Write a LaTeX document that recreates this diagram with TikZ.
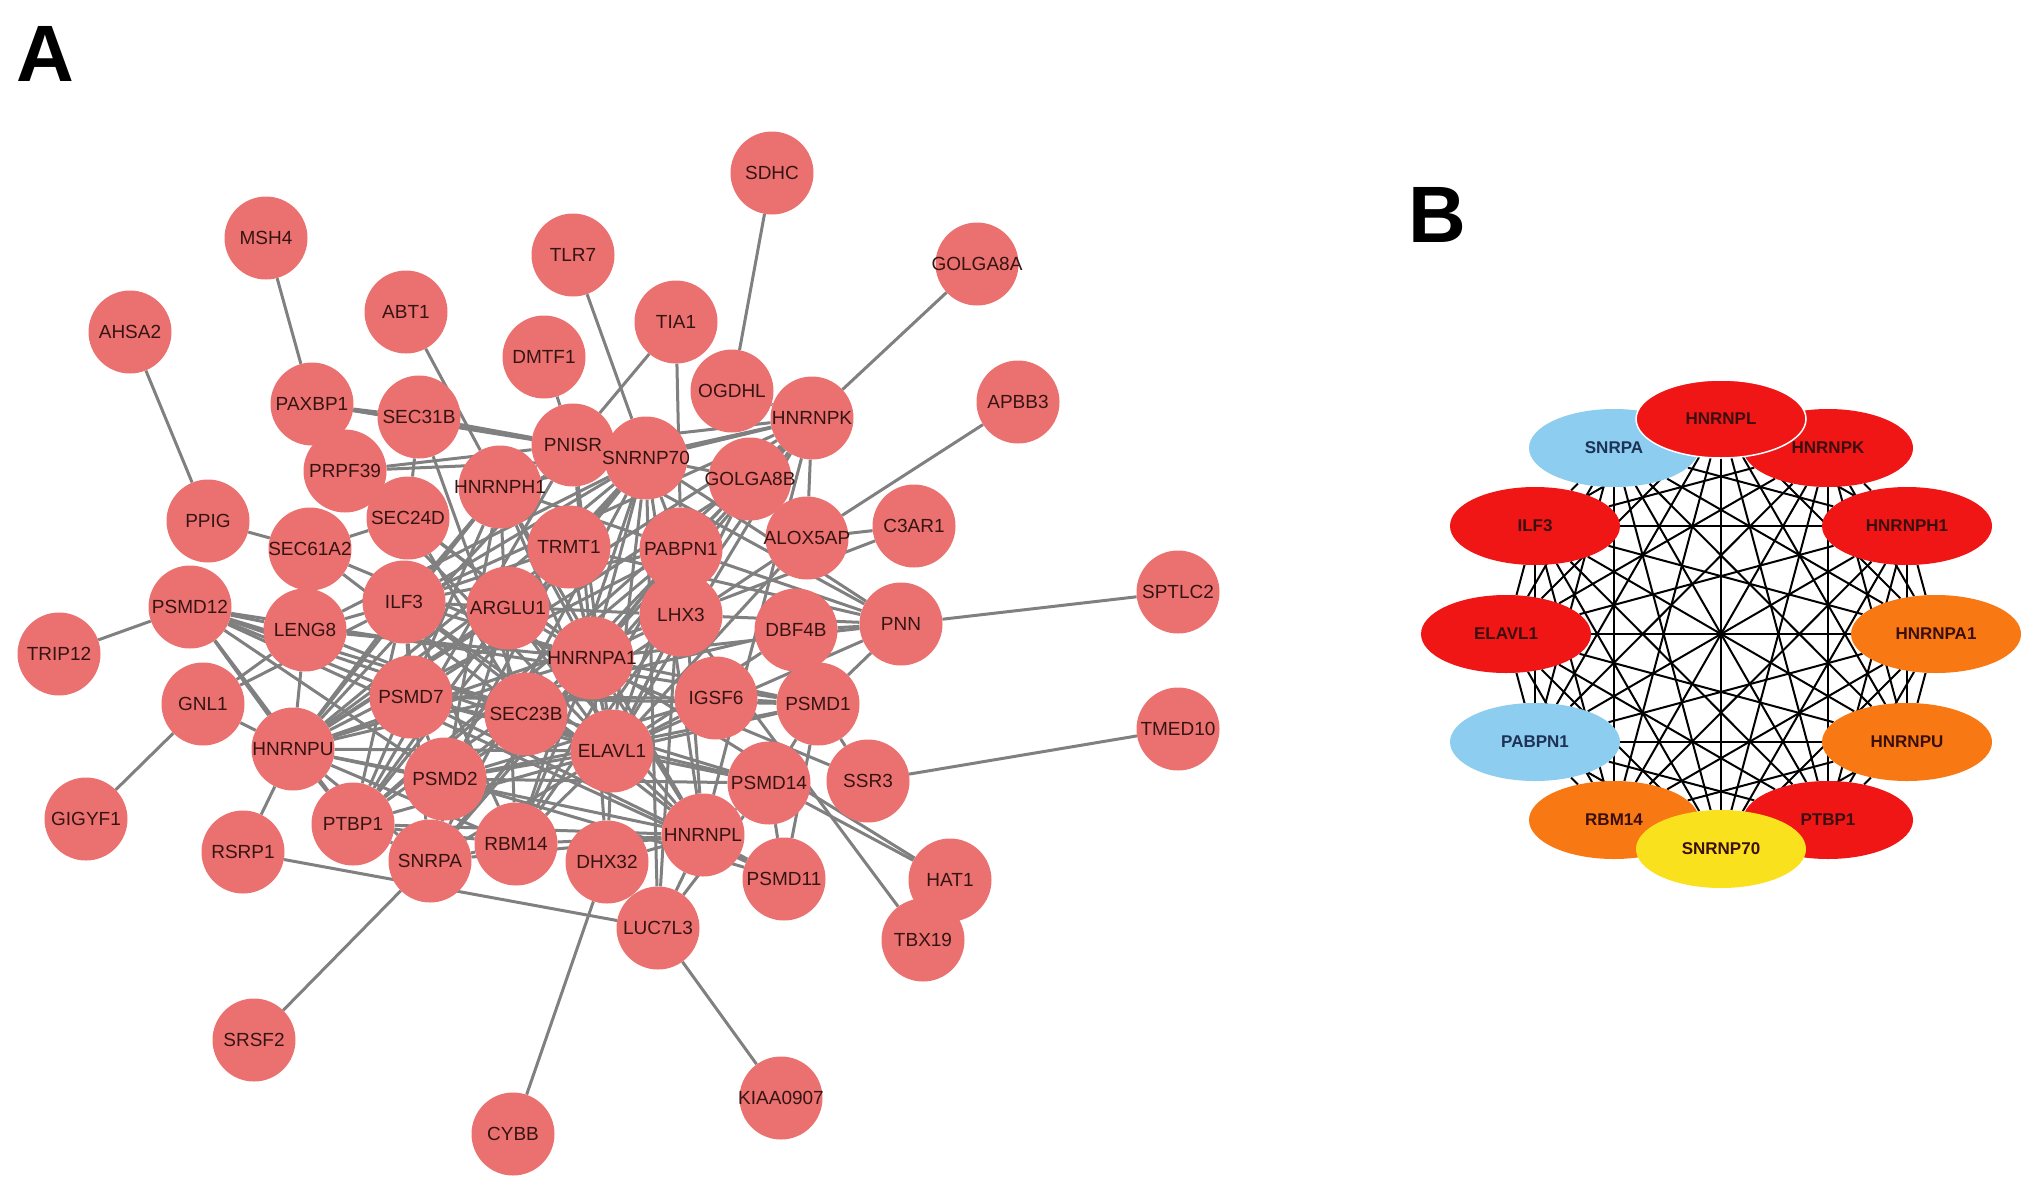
\documentclass[tikz,border=0pt]{standalone}
\usepackage{fontspec}
\setmainfont{Liberation Sans}
\usetikzlibrary{shapes.geometric,backgrounds}
\definecolor{geneA}{RGB}{234,113,111}
\definecolor{txtA}{RGB}{55,20,20}
\definecolor{edgeA}{RGB}{128,128,128}
\definecolor{hred}{RGB}{240,22,22}
\definecolor{horange}{RGB}{248,120,20}
\definecolor{hblue}{RGB}{140,205,240}
\definecolor{hyellow}{RGB}{250,225,30}
\definecolor{txtR}{RGB}{60,15,15}
\definecolor{txtU}{RGB}{30,50,85}
\begin{document}
\begin{tikzpicture}[x=1pt,y=-1pt,
  gene/.style={circle,fill=geneA,minimum size=83pt,inner sep=0pt,text=txtA,font=\fontsize{19}{19}\selectfont},
  hub/.style={ellipse,minimum width=170pt,minimum height=78pt,inner sep=0pt,font=\bfseries\fontsize{17}{17}\selectfont},
  link/.style={draw=edgeA,line width=3pt},
  clique/.style={draw=black,line width=2pt}]
\useasboundingbox (0,0) rectangle (2031,1186);
% panel letters
\node[font=\bfseries\fontsize{80}{80}\selectfont] (labA) at (45,54) {A};
\node[font=\bfseries\fontsize{80}{80}\selectfont] (labB) at (1437,215) {B};
% panel A: genes
\foreach \nm/\x/\y in {SDHC/772/173, MSH4/266/238, TLR7/573/255, GOLGA8A/977/264,
  ABT1/406/312, TIA1/676/322, AHSA2/130/332, DMTF1/544/357, OGDHL/732/391,
  APBB3/1018/402, PAXBP1/312/404, SEC31B/419/417, HNRNPK/812/418, PNISR/573/445,
  SNRNP70/646/458, PRPF39/345/471, GOLGA8B/750/479, HNRNPH1/500/487, PPIG/208/521,
  SEC24D/408/518, C3AR1/914/526, ALOX5AP/807/538, SEC61A2/310/549, TRMT1/569/547,
  PABPN1/681/549, SPTLC2/1178/592, ILF3/404/602, PSMD12/190/607, ARGLU1/508/608,
  LHX3/681/615, LENG8/305/630, DBF4B/796/630, PNN/901/624, TRIP12/59/654,
  HNRNPA1/592/658, IGSF6/716/698, PSMD7/411/697, GNL1/203/704, SEC23B/526/714,
  PSMD1/818/704, TMED10/1178/729, HNRNPU/293/749, ELAVL1/612/751, PSMD2/445/779,
  PSMD14/769/783, SSR3/868/781, GIGYF1/86/819, PTBP1/353/824, RSRP1/243/852,
  SNRPA/430/861, RBM14/516/844, DHX32/607/862, HNRNPL/703/835, PSMD11/784/879,
  HAT1/950/880, LUC7L3/658/928, TBX19/923/940, SRSF2/254/1040, KIAA0907/781/1098,
  CYBB/513/1134}
  \node[gene] (\nm) at (\x,\y) {\makebox[0pt]{\nm}};
\begin{scope}[on background layer]
% core hubs, all linked
\foreach \a [count=\i] in {ELAVL1,HNRNPA1,HNRNPU,HNRNPL,HNRNPK,HNRNPH1,ILF3,SNRNP70,SNRPA,PTBP1,RBM14,PABPN1}
  \foreach \b [count=\j] in {ELAVL1,HNRNPA1,HNRNPU,HNRNPL,HNRNPK,HNRNPH1,ILF3,SNRNP70,SNRPA,PTBP1,RBM14,PABPN1}
    {\ifnum\i<\j \draw[link] (\a) -- (\b); \fi}
% proteasome
\foreach \a [count=\i] in {PSMD1,PSMD2,PSMD7,PSMD11,PSMD12,PSMD14}
  \foreach \b [count=\j] in {PSMD1,PSMD2,PSMD7,PSMD11,PSMD12,PSMD14}
    {\ifnum\i<\j \draw[link] (\a) -- (\b); \fi}
% other links
\foreach \a/\b in {SDHC/OGDHL, MSH4/PAXBP1, TLR7/SNRNP70, GOLGA8A/HNRNPK, ABT1/HNRNPH1,
  TIA1/PNISR, TIA1/PABPN1, AHSA2/PPIG, DMTF1/PNISR, APBB3/ALOX5AP, PPIG/SEC61A2,
  C3AR1/ALOX5AP, C3AR1/LHX3, SPTLC2/PNN, TMED10/SSR3, TRIP12/PSMD12, GNL1/GIGYF1,
  GNL1/HNRNPU, GNL1/ILF3, GNL1/LENG8, RSRP1/HNRNPU, RSRP1/LUC7L3, SRSF2/SNRPA,
  CYBB/DHX32, KIAA0907/LUC7L3, HAT1/PSMD14, HAT1/HNRNPA1, TBX19/LHX3,
  PAXBP1/SEC31B, PAXBP1/PNISR, PAXBP1/SNRNP70, SEC31B/PNISR, SEC31B/SEC24D,
  SEC31B/SEC23B, SEC24D/SEC23B, SEC61A2/SEC24D, SEC61A2/SEC23B, SEC61A2/SSR3,
  SEC23B/PSMD2, SEC23B/ELAVL1, SEC24D/HNRNPA1,
  PRPF39/PNISR, PRPF39/SNRNP70, PRPF39/HNRNPA1, PRPF39/ELAVL1,
  PNISR/SNRNP70, PNISR/HNRNPA1, PNISR/ELAVL1, PNISR/PTBP1, PNISR/HNRNPU, PNISR/PNN, PNISR/HNRNPH1,
  TRMT1/ELAVL1, TRMT1/HNRNPA1, TRMT1/ILF3, TRMT1/HNRNPU, TRMT1/SNRNP70, TRMT1/PNN, TRMT1/PSMD2,
  ARGLU1/ELAVL1, ARGLU1/HNRNPA1, ARGLU1/HNRNPU, ARGLU1/SNRNP70, ARGLU1/PTBP1, ARGLU1/SNRPA, ARGLU1/HNRNPL,
  LHX3/ELAVL1, LHX3/HNRNPA1, LHX3/PNN, LHX3/HNRNPU, LHX3/ILF3,
  LENG8/ELAVL1, LENG8/HNRNPA1, LENG8/ILF3, LENG8/SNRNP70, LENG8/HNRNPU, LENG8/PSMD12,
  DBF4B/PNN, DBF4B/PSMD1, DBF4B/ELAVL1, DBF4B/HNRNPU,
  IGSF6/PSMD1, IGSF6/ELAVL1, IGSF6/PSMD7, IGSF6/PSMD2,
  PNN/SNRNP70, PNN/PABPN1, PNN/HNRNPA1, PNN/PSMD1, PNN/ELAVL1,
  GOLGA8B/SNRNP70, GOLGA8B/HNRNPK, GOLGA8B/ELAVL1, GOLGA8B/SEC23B, GOLGA8B/PSMD7,
  ALOX5AP/ELAVL1, ALOX5AP/PSMD2,
  DHX32/ELAVL1, DHX32/HNRNPL, DHX32/HNRNPA1, DHX32/LUC7L3,
  LUC7L3/HNRNPL, LUC7L3/SNRNP70, LUC7L3/PABPN1, LUC7L3/PSMD14,
  PSMD2/ELAVL1, PSMD7/ELAVL1, PSMD14/ELAVL1, PSMD1/ELAVL1, PSMD12/HNRNPU, PSMD12/ELAVL1,
  PSMD12/PTBP1, PSMD2/HNRNPU, PSMD7/ILF3, PSMD11/HNRNPL, PSMD14/HNRNPL, PSMD1/HNRNPA1,
  SSR3/PSMD1, HNRNPK/ALOX5AP, HNRNPK/PNISR, OGDHL/HNRNPK}
  \draw[link] (\a) -- (\b);
\end{scope}
% panel B: hub genes
\foreach \nm/\x/\y/\col/\tc/\txt in {b1/1614/448/hblue/txtU/SNRPA, b2/1828/448/hred/txtR/HNRNPK,
  b3/1907/526/hred/txtR/HNRNPH1, b4/1936/634/horange/txtR/HNRNPA1, b5/1907/742/horange/txtR/HNRNPU,
  b6/1828/820/hred/txtR/PTBP1, b7/1614/820/horange/txtR/RBM14, b8/1535/742/hblue/txtU/PABPN1,
  b9/1506/634/hred/txtR/ELAVL1, b10/1535/526/hred/txtR/ILF3, b11/1721/419/hred/txtR/HNRNPL,
  b12/1721/849/hyellow/txtR/SNRNP70}
  \node[hub,fill=\col,text=\tc] (\nm) at (\x,\y) {\txt};
\draw[white,line width=1.5pt] (b11.center) ellipse (85pt and 39pt);
\begin{scope}[on background layer]
\foreach \i in {1,...,11}{
  \pgfmathtruncatemacro\nxt{\i+1}
  \foreach \j in {\nxt,...,12}
    \draw[clique] (b\i) -- (b\j);
}
\end{scope}
\end{tikzpicture}
\end{document}
